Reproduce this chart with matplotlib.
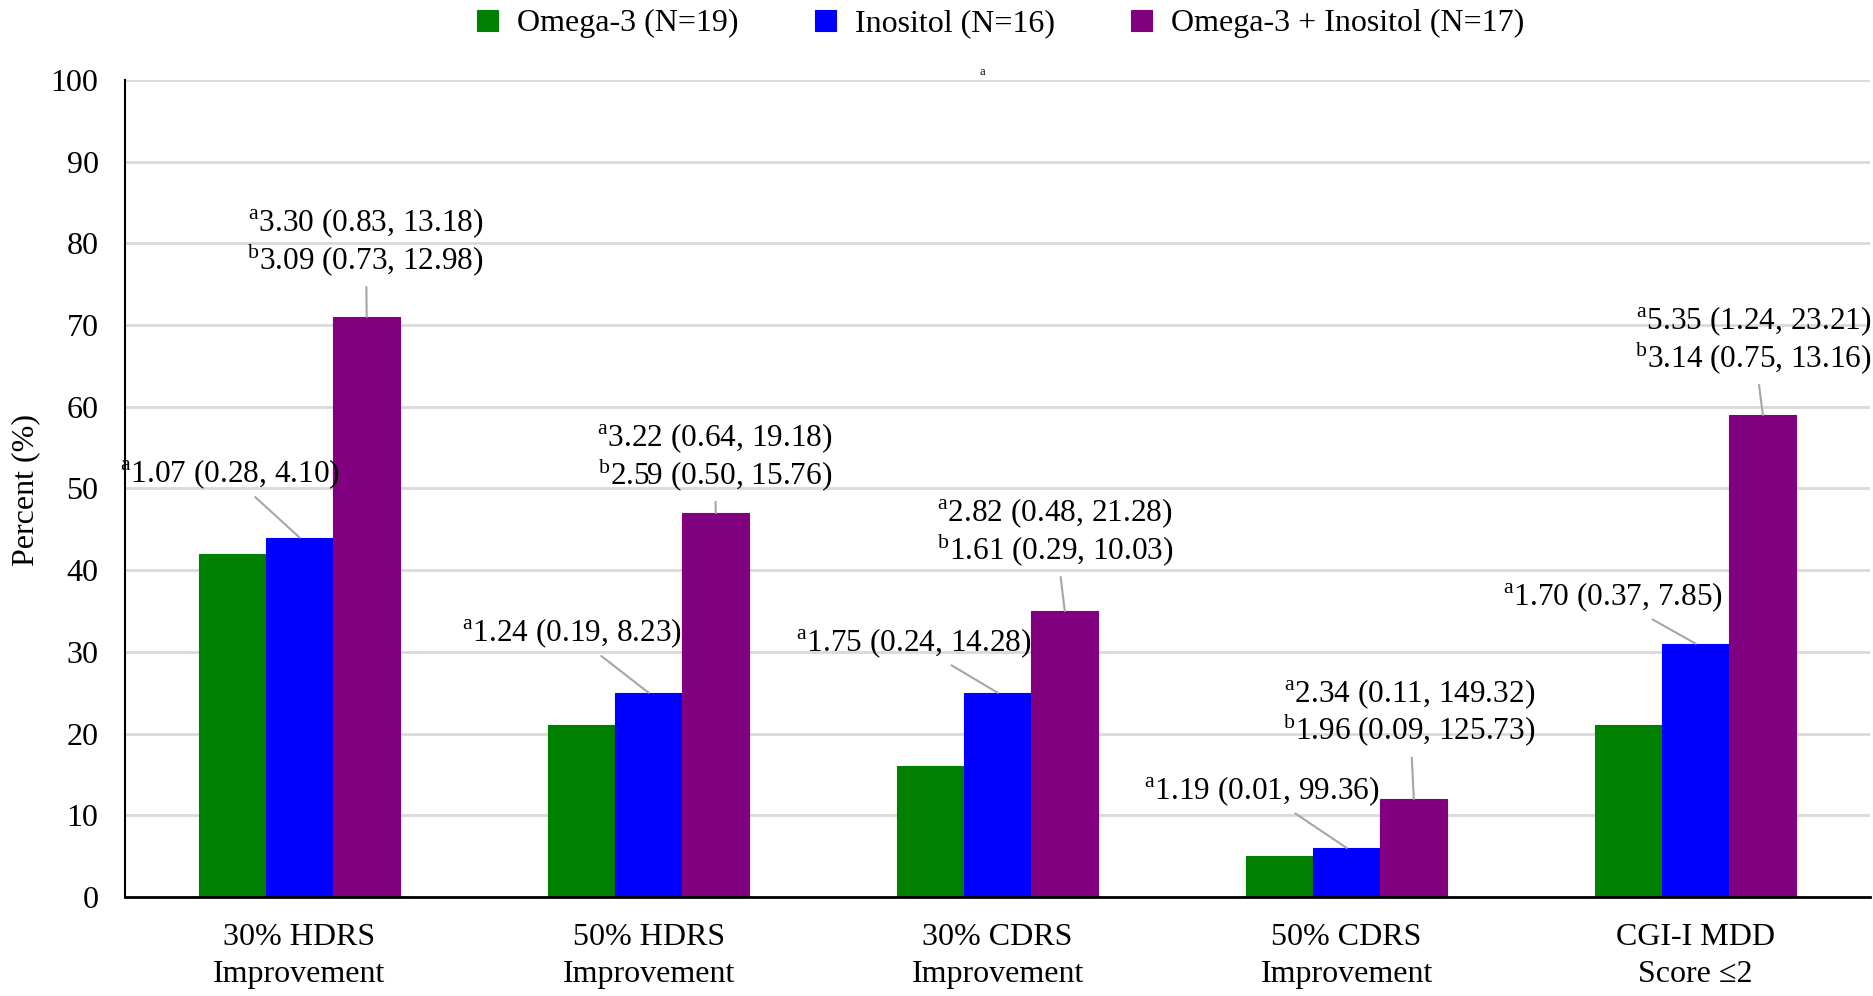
import matplotlib
matplotlib.use("Agg")
import matplotlib.pyplot as plt
import numpy as np

plt.rcParams['font.family'] = ['Liberation Serif', 'DejaVu Serif']
plt.rcParams['mathtext.fontset'] = 'custom'
plt.rcParams['mathtext.rm'] = 'Liberation Serif'

categories = ["30% HDRS\nImprovement", "50% HDRS\nImprovement", "30% CDRS\nImprovement",
              "50% CDRS\nImprovement", "CGI-I MDD\nScore ≤2"]
series_names = ["Omega-3 (N=19)", "Inositol (N=16)", "Omega-3 + Inositol (N=17)"]
omega3 = [42, 21, 16, 5, 21]
inositol = [44, 25, 25, 6, 31]
combined = [71, 47, 35, 12, 59]
colors = ["#008000", "#0000FF", "#800080"]

A = r"$^{\mathrm{a}}$"
B = r"$^{\mathrm{b}}$"
# odds ratio labels: (category index, series index, text, label x, label y)
or_labels = [
    (0, 1, A + "1.07 (0.28, 4.10)", -0.20, 51.8),
    (0, 2, A + "3.30 (0.83, 13.18)\n" + B + "3.09 (0.73, 12.98)", 0.19, 80.1),
    (1, 1, A + "1.24 (0.19, 8.23)", 0.78, 32.3),
    (1, 2, A + "3.22 (0.64, 19.18)\n" + B + "2.59 (0.50, 15.76)", 1.19, 53.8),
    (2, 1, A + "1.75 (0.24, 14.28)", 1.76, 31.1),
    (2, 2, A + "2.82 (0.48, 21.28)\n" + B + "1.61 (0.29, 10.03)", 2.165, 44.6),
    (3, 1, A + "1.19 (0.01, 99.36)", 2.756, 13.0),
    (3, 2, A + "2.34 (0.11, 149.32)\n" + B + "1.96 (0.09, 125.73)", 3.18, 22.5),
    (4, 1, A + "1.70 (0.37, 7.85)", 3.763, 36.7),
    (4, 2, A + "5.35 (1.24, 23.21)\n" + B + "3.14 (0.75, 13.16)", 4.165, 68.1),
]

fig = plt.figure(figsize=(18.74, 9.96), dpi=100)
ax = fig.add_axes([0.0667, 0.0994, 0.9313, 0.8203])

x = np.arange(len(categories))
w = 0.1924
data = [omega3, inositol, combined]
for i, (vals, name, c) in enumerate(zip(data, series_names, colors)):
    ax.bar(x + (i - 1) * w, vals, w, color=c, label=name, zorder=2,
           edgecolor=c, linewidth=0.8)

for ci, si, txt, tx, ty in or_labels:
    bx = x[ci] + (si - 1) * w
    by = data[si][ci]
    ax.annotate(txt, xy=(bx, by), xytext=(tx, ty), ha='center', va='center',
                fontsize=22.5, linespacing=1.0, annotation_clip=False,
                arrowprops=dict(arrowstyle='-', color='#a6a6a6', lw=1.5,
                                shrinkA=4, shrinkB=0))

ax.text(1.955, 100.3, "a", ha='center', va='bottom', fontsize=9)

ax.set_xlim(-0.5, 4.5)
ax.set_ylim(0, 100)
ax.set_yticks(range(0, 101, 10))
ax.set_xticks(x)
ax.set_xticklabels(categories, fontsize=23, linespacing=1.33)
ax.tick_params(axis='y', length=0, pad=19, labelsize=23)
ax.tick_params(axis='x', length=0, pad=19)
ax.yaxis.grid(True, color='#d9d9d9', linewidth=2, zorder=0)
ax.set_axisbelow(True)
for s in ['top', 'right']:
    ax.spines[s].set_visible(False)
ax.spines['left'].set_linewidth(1.5)
ax.spines['bottom'].set_linewidth(2)

fig.text(0.0139, 0.508, "Percent (%)", rotation=90, ha='center', va='center', fontsize=23)

fig.legend(loc='center', bbox_to_anchor=(0.534, 0.976), ncol=3, frameon=False,
           fontsize=23, handlelength=0.65, handleheight=0.65, handletextpad=0.6,
           columnspacing=2.4)

fig.savefig("out.png", dpi=100)
